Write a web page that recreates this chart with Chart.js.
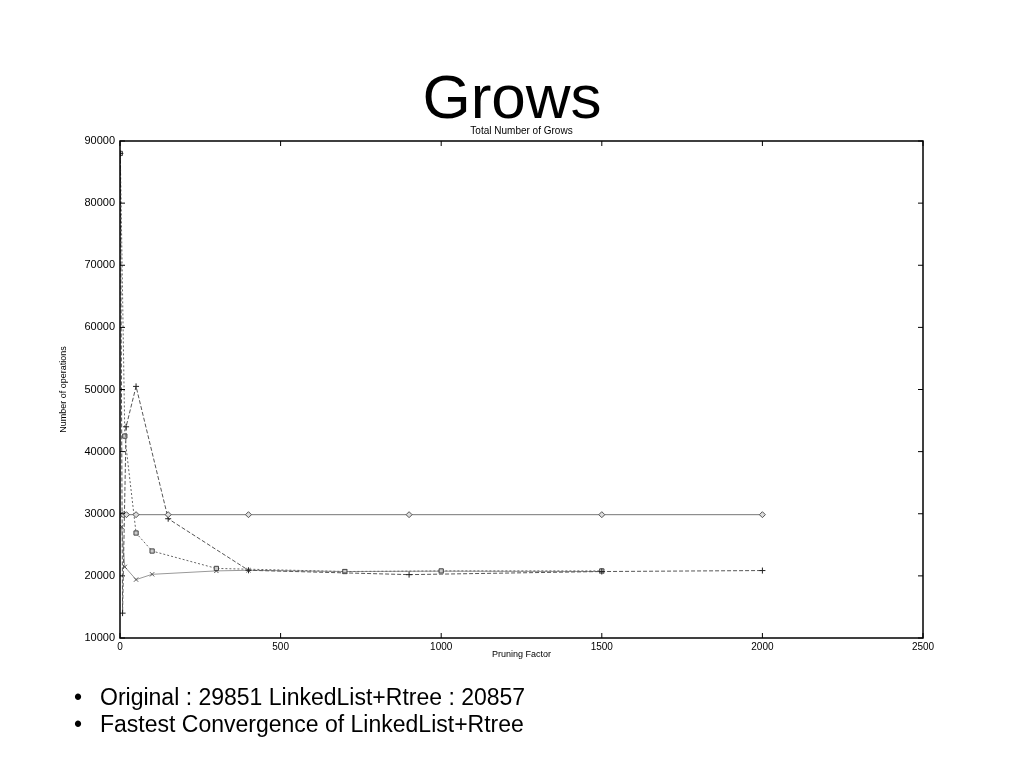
<!DOCTYPE html>
<html>
<head>
<meta charset="utf-8">
<script src="https://cdn.jsdelivr.net/npm/chart.js@4.4.0/dist/chart.umd.min.js"></script>
<style>
  body { margin: 0; background: #fff; font-family: "Liberation Sans", Arial, sans-serif; }
  #wrap { position: relative; width: 1024px; height: 768px; }
  #growsChart { position: absolute; left: 0; top: 0; }
  #heading { position: absolute; left: 0; width: 1024px; top: 61px; text-align: center; font-size: 62px; color: #000; }
  ul { position: absolute; left: 0; top: 684px; margin: 0; padding: 0; list-style: none; font-size: 23px; }
  li { position: relative; padding-left: 100px; height: 27px; }
  li::before { content: "\2022"; position: absolute; left: 74px; }
</style>
</head>
<body>
<div id="wrap">
  <canvas id="growsChart" width="1024" height="768"></canvas>
  <div id="heading">Grows</div>
  <ul>
    <li>Original : 29851 LinkedList+Rtree : 20857</li>
    <li>Fastest Convergence of LinkedList+Rtree</li>
  </ul>
</div>
<script>
// pruning factor (x) and grow counts (y) per curve
const origX = [1, 10, 20, 50, 150, 400, 900, 1500, 2000];
const origY = [29851, 29851, 29851, 29851, 29851, 29851, 29851, 29851, 29851];

const plusX = [1, 8, 19, 50, 150, 400, 900, 1500, 2000];
const plusY = [88000, 14000, 44000, 50500, 29200, 20900, 20200, 20700, 20857];

const boxX = [1, 15, 50, 100, 300, 700, 1000, 1500];
const boxY = [88000, 42500, 26900, 24000, 21200, 20700, 20800, 20800];

const crossX = [5, 15, 50, 100, 300, 400, 700, 1000, 1500];
const crossY = [27900, 21450, 19400, 20250, 20800, 20900, 20700, 20750, 20700];

const xTicks = [0, 500, 1000, 1500, 2000, 2500];
const yTicks = [10000, 20000, 30000, 40000, 50000, 60000, 70000, 80000, 90000];

function pts(xs, ys) {
  return xs.map((x, i) => ({ x: x, y: ys[i] }));
}

// frame + inward tick marks on all four sides
const framePlugin = {
  id: 'frame',
  afterDraw(chart) {
    const ctx = chart.ctx;
    const a = chart.chartArea;
    const xs = chart.scales.x, ys = chart.scales.y;
    ctx.save();
    ctx.strokeStyle = '#000';
    ctx.lineWidth = 1.5;
    ctx.strokeRect(a.left, a.top, a.right - a.left, a.bottom - a.top);
    ctx.lineWidth = 1;
    xTicks.forEach(v => {
      const px = xs.getPixelForValue(v);
      ctx.beginPath();
      ctx.moveTo(px, a.bottom); ctx.lineTo(px, a.bottom - 5);
      ctx.moveTo(px, a.top); ctx.lineTo(px, a.top + 5);
      ctx.stroke();
    });
    yTicks.forEach(v => {
      const py = ys.getPixelForValue(v);
      ctx.beginPath();
      ctx.moveTo(a.left, py); ctx.lineTo(a.left + 5, py);
      ctx.moveTo(a.right, py); ctx.lineTo(a.right - 5, py);
      ctx.stroke();
    });
    ctx.restore();
  }
};

const ctx = document.getElementById('growsChart').getContext('2d');
const chart = new Chart(ctx, {
  type: 'line',
  data: {
    datasets: [
      {
        data: pts(origX, origY),
        borderColor: '#777', borderWidth: 1,
        pointStyle: 'rectRot', pointRadius: 3,
        pointBorderColor: '#555', pointBackgroundColor: '#ddd'
      },
      {
        data: pts(plusX, plusY),
        borderColor: '#555', borderWidth: 1, borderDash: [4, 2],
        pointStyle: 'cross', pointRadius: 3,
        pointBorderColor: '#222', pointBackgroundColor: '#222'
      },
      {
        data: pts(boxX, boxY),
        borderColor: '#666', borderWidth: 1, borderDash: [2, 2],
        pointStyle: 'rect', pointRadius: 3,
        pointBorderColor: '#444', pointBackgroundColor: '#ccc'
      },
      {
        data: pts(crossX, crossY),
        borderColor: '#999', borderWidth: 1,
        pointStyle: 'crossRot', pointRadius: 3,
        pointBorderColor: '#555', pointBackgroundColor: '#555'
      }
    ]
  },
  options: {
    responsive: false,
    animation: false,
    layout: { padding: { left: 58, right: 101, top: 125, bottom: 108 } },
    plugins: {
      legend: { display: false },
      tooltip: { enabled: false },
      title: {
        display: true,
        text: 'Total Number of Grows',
        fullSize: false,
        color: '#000',
        font: { family: 'Liberation Sans', size: 10, weight: 'normal' },
        padding: { top: 0, bottom: 4 }
      }
    },
    scales: {
      x: {
        type: 'linear',
        min: 0, max: 2500,
        afterFit: s => { s.height = 22; },
        afterBuildTicks: s => { s.ticks = xTicks.map(v => ({ value: v })); },
        grid: { display: false, drawTicks: false, tickLength: 0 },
        border: { display: false },
        ticks: {
          color: '#000', padding: 3,
          font: { family: 'Liberation Sans', size: 10 },
          callback: v => String(v)
        },
        title: {
          display: true, text: 'Pruning Factor', color: '#000',
          padding: 0, font: { family: 'Liberation Sans', size: 9 }
        }
      },
      y: {
        type: 'linear',
        min: 10000, max: 90000,
        afterFit: s => { s.width = 62; },
        afterBuildTicks: s => { s.ticks = yTicks.map(v => ({ value: v })); },
        grid: { display: false, drawTicks: false, tickLength: 0 },
        border: { display: false },
        ticks: {
          color: '#000', padding: 5,
          font: { family: 'Liberation Sans', size: 11 },
          callback: v => String(v)
        },
        title: {
          display: true, text: 'Number of operations', color: '#000',
          padding: 0, font: { family: 'Liberation Sans', size: 9 }
        }
      }
    }
  },
  plugins: [framePlugin]
});
</script>
</body>
</html>
